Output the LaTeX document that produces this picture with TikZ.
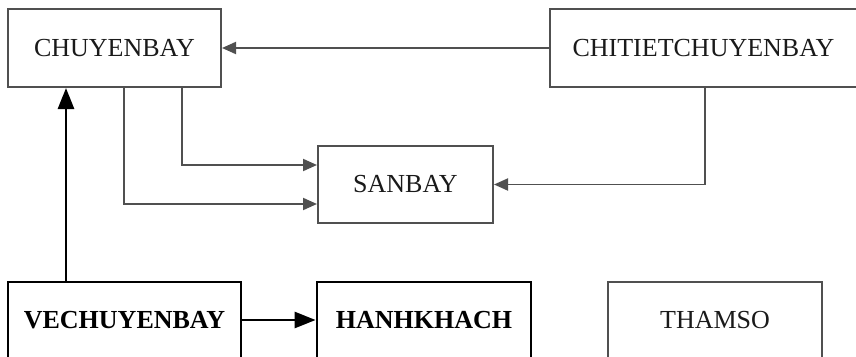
\documentclass[tikz,border=0pt]{standalone}
\usepackage{fontspec}
\setmainfont{Liberation Serif}
\usetikzlibrary{arrows.meta}
\definecolor{linegray}{HTML}{505050}
\definecolor{textgray}{HTML}{1A1A1A}
\begin{document}
\begin{tikzpicture}[x=1pt,y=-1pt,
  entity/.style={draw=linegray, line width=2pt, rectangle, inner sep=0pt,
    text=textgray, font=\fontsize{26}{30}\selectfont},
  mainentity/.style={draw=black, line width=2.8pt, rectangle, inner sep=0pt,
    text=black, font=\fontsize{26}{30}\selectfont\bfseries},
  link/.style={draw=linegray, line width=1.9pt,
    -{Triangle[length=14pt,width=12pt]}},
  mainlink/.style={draw=black, line width=2.8pt,
    -{Triangle[length=21pt,width=16pt]}}]
  \fill[white] (0,0) rectangle (856,356);
  \useasboundingbox (0,0) rectangle (856,356);
  \clip (0,0) rectangle (856,356);

  % entities
  \node[entity, minimum width=213pt, minimum height=78pt] (chuyenbay) at (114.5,48) {CHUYENBAY};
  \node[entity, minimum width=307pt, minimum height=78pt] (chitiet) at (703.5,48) {CHITIETCHUYENBAY};
  \node[entity, minimum width=175pt, minimum height=77pt] (sanbay) at (405.5,184.5) {SANBAY};
  \node[mainentity, minimum width=233pt, minimum height=76pt] (vechuyenbay) at (124.5,320) {VECHUYENBAY};
  \node[mainentity, minimum width=214pt, minimum height=76pt] (hanhkhach) at (424,320) {HANHKHACH};
  \node[entity, minimum width=214pt, minimum height=76pt] (thamso) at (715,320) {THAMSO};

  % relations
  \draw[link] (chitiet.west) -- (chuyenbay.east);
  \draw[link] ([xshift=67.5pt]chuyenbay.south) |- ([yshift=19.5pt]sanbay.west);
  \draw[link] ([xshift=9.5pt]chuyenbay.south) |- ([yshift=-19.5pt]sanbay.west);
  \draw[link] ([xshift=1.5pt]chitiet.south) |- (sanbay.east);
  \coordinate (vetop) at ([xshift=-58.5pt]vechuyenbay.north);
  \draw[mainlink] (vetop) -- (vetop |- chuyenbay.south);
  \draw[mainlink] (vechuyenbay.east) -- (hanhkhach.west);
\end{tikzpicture}
\end{document}
